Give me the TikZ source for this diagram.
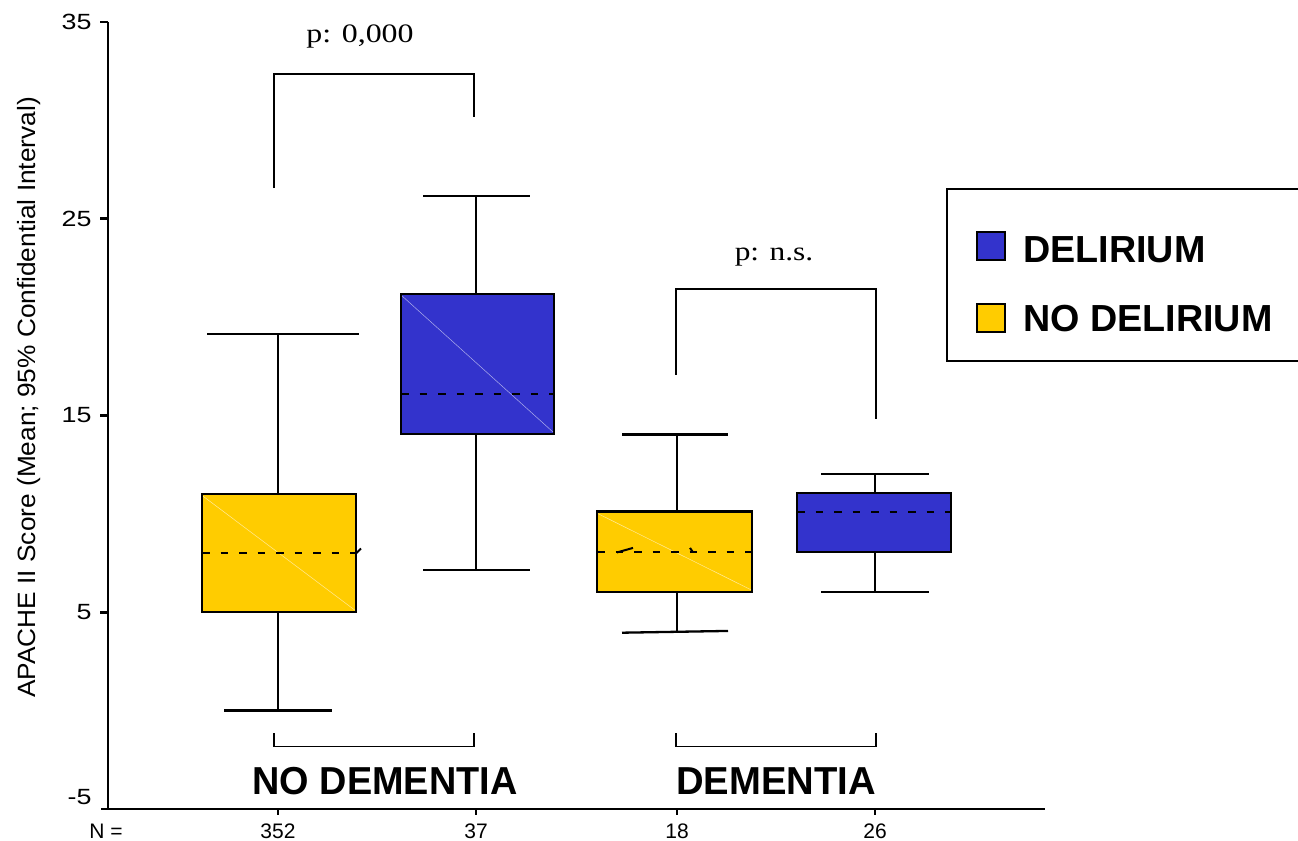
\documentclass[tikz,border=0pt]{standalone}
\usepackage{fontspec}
\setmainfont{Liberation Sans}
\newfontfamily\pvalfont{Liberation Serif}
\definecolor{delblue}{RGB}{51,51,204}
\definecolor{nodelyellow}{RGB}{255,204,0}
\tikzset{
  axisline/.style={line width=2.6pt},
  whisker/.style={line width=2.3pt},
  iqrbox/.style={draw=black, line width=2.5pt},
  sheen/.style={line width=0.5pt, white, opacity=0.6},
  meanline/.style={line width=2.2pt, dash pattern=on 7.5pt off 11pt},
  bracket/.style={line width=1.3pt},
  ticklabel/.style={font=\fontsize{22pt}{25pt}\selectfont},
  countlabel/.style={font=\fontsize{21pt}{24pt}\selectfont, inner sep=0pt},
  pval/.style={font=\pvalfont\fontsize{26.6pt}{30pt}\selectfont, anchor=base},
  grouplabel/.style={font=\bfseries\fontsize{39pt}{44pt}\selectfont, anchor=base},
  legendtext/.style={font=\bfseries\fontsize{37.7pt}{42pt}\selectfont, anchor=base west, inner sep=0pt}
}
\begin{document}
\begin{tikzpicture}[x=1pt, y=19.675pt]
  \useasboundingbox (0,-6.576) rectangle (1298,36.118);

  % axes
  \draw [axisline] (108,35) -- (108,-5) -- (1045,-5);
  \draw [axisline] (101,-5) -- (108,-5);
  \foreach \v in {35,25,15,5}
    \draw [axisline] (100,\v) -- (108,\v);
  \foreach \x in {278,476,677,875}
    \draw [axisline] (\x,-5) -- (\x,-5.31);
  \node [ticklabel, anchor=east] (t35) at (95,35) {\scalebox{1.22}[1]{35}};
  \node [ticklabel, anchor=east] (t25) at (95,25) {\scalebox{1.22}[1]{25}};
  \node [ticklabel, anchor=east] (t15) at (95,15) {\scalebox{1.22}[1]{15}};
  \node [ticklabel, anchor=east] (t5) at (95,5) {\scalebox{1.22}[1]{5}};
  \node [ticklabel, anchor=east] (tm5) at (95,-4.39) {\scalebox{1.22}[1]{-5}};
  \node [rotate=90, font=\fontsize{25pt}{28pt}\selectfont] (ylab) at (29,15.92)
    {\scalebox{1.05}[1]{APACHE II Score (Mean; 95\% Confidential Interval)}};

  % counts
  \node [countlabel] (nlab) at (106,-6.11) {N =};
  \node [countlabel] (n1) at (278,-6.11) {352};
  \node [countlabel] (n2) at (476,-6.11) {37};
  \node [countlabel] (n3) at (677,-6.11) {18};
  \node [countlabel] (n4) at (875,-6.11) {26};

  % no dementia, no delirium
  \draw [whisker] (278,11) -- (278,19.14);
  \draw [whisker] (207,19.14) -- (359,19.14);
  \draw [whisker] (278,5) -- (278,0);
  \draw [whisker] (224,0) -- (332,0);
  \draw [iqrbox, fill=nodelyellow] (202,5) rectangle (356,11);
  \draw [sheen] (203,10.9) -- (355,5.1);
  \draw [meanline] (202,8) -- (356,8);
  \draw [line width=2pt] (356,7.99) -- (361,8.24);

  % no dementia, delirium
  \draw [whisker] (476,21.18) -- (476,26.16);
  \draw [whisker] (423,26.16) -- (530,26.16);
  \draw [whisker] (476,14.06) -- (476,7.15);
  \draw [whisker] (423,7.15) -- (530,7.15);
  \draw [iqrbox, fill=delblue] (401,14.06) rectangle (554,21.18);
  \draw [sheen] (402,21.08) -- (553,14.16);
  \draw [meanline] (401,16.09) -- (554,16.09);

  % dementia, no delirium
  \draw [whisker] (677,10.11) -- (677,14.04);
  \draw [whisker] (622,14.04) -- (728,14.04);
  \draw [whisker] (677,6.04) -- (677,4.0);
  \draw [whisker] (622,3.96) -- (728,4.05);
  \draw [iqrbox, fill=nodelyellow] (597,6.04) rectangle (752,10.11);
  \draw [sheen] (598,10.01) -- (751,6.14);
  \draw [meanline] (597,8.06) -- (752,8.06);
  \draw [line width=2pt] (617,8.04) -- (633,8.27);
  \draw [line width=2pt] (690,8.27) -- (693,8.04);

  % dementia, delirium
  \draw [whisker] (875,11.06) -- (875,12.01);
  \draw [whisker] (821,12.01) -- (929,12.01);
  \draw [whisker] (875,8.06) -- (875,6.04);
  \draw [whisker] (821,6.04) -- (929,6.04);
  \draw [iqrbox, fill=delblue] (797,8.06) rectangle (951,11.06);
  \draw [meanline] (797,10.1) -- (951,10.1);

  % comparisons
  \draw [bracket] (274,26.56) -- (274,32.36) -- (474,32.36) -- (474,30.17);
  \node [pval] (p1) at (360,33.97) {\scalebox{1.2}[1]{p: 0,000}};
  \draw [bracket] (676,17.06) -- (676,21.43) -- (876,21.43) -- (876,14.82);
  \node [pval] (p2) at (774,22.9) {\scalebox{1.18}[1]{p: n.s.}};

  % groups
  \draw [bracket] (274,-1.14) -- (274,-1.83) -- (474,-1.83) -- (474,-1.14);
  \node [grouplabel] (g1) at (385,-4.24) {\scalebox{0.97}[1]{NO DEMENTIA}};
  \draw [bracket] (676,-1.14) -- (676,-1.83) -- (876,-1.83) -- (876,-1.14);
  \node [grouplabel] (g2) at (776,-4.24) {\scalebox{0.98}[1]{DEMENTIA}};

  % legend
  \draw [line width=1.5pt] (947,26.51) rectangle (1302,17.77);
  \draw [line width=1.5pt, fill=delblue] (977,24.33) rectangle (1005,22.9);
  \node [legendtext] (l1) at (1023,22.8) {DELIRIUM};
  \draw [line width=1.5pt, fill=nodelyellow] (977,20.67) rectangle (1005,19.24);
  \node [legendtext] (l2) at (1023,19.26) {NO DELIRIUM};
\end{tikzpicture}
\end{document}
